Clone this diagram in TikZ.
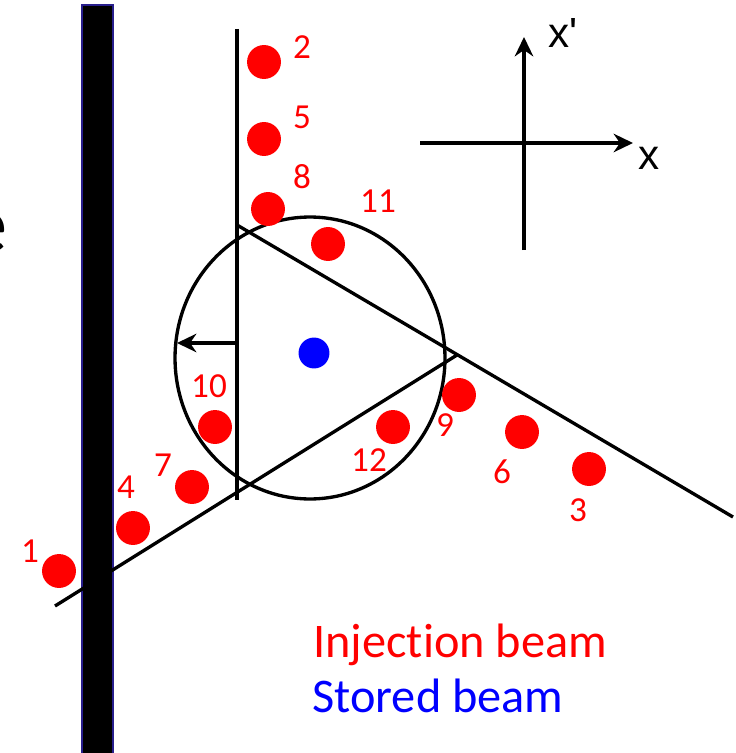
\documentclass[tikz,border=0pt]{standalone}
\usepackage{fontspec}
\setmainfont{Carlito}[Ligatures={NoCommon}]
\newfontfamily\axisfont{Liberation Sans}
\usetikzlibrary{arrows.meta}
\definecolor{injred}{RGB}{255,0,0}
\definecolor{storeblue}{RGB}{0,0,255}
\definecolor{edgenavy}{RGB}{40,30,140}
\tikzset{
  rdot/.style={circle, fill=injred, inner sep=0pt, minimum size=19.3pt},
  bdot/.style={circle, fill=storeblue, inner sep=0pt, minimum size=17.6pt},
  num/.style={text=injred, font=\fontsize{20}{24}\selectfont, inner sep=0pt},
  axlab/.style={font=\axisfont\fontsize{24}{28}\selectfont, inner sep=0pt, anchor=base west},
  wire/.style={line width=1.9pt}
}
\begin{document}
\begin{tikzpicture}[x=0.02cm, y=-0.02cm, >={Stealth[length=11pt,width=10.5pt]}]
  \useasboundingbox (0,0) rectangle (736,753);
  % cut-off letter at the left edge
  \node[anchor=base east, inner sep=0pt, font=\fontsize{47}{56}\selectfont] (cut) at (8,252) {e};
  % septum
  \filldraw[fill=black, draw=edgenavy, line width=0.8pt] (82,5) rectangle (113,770);
  % septum edge and the two other sides
  \coordinate (vtop) at (237,29);
  \coordinate (vbot) at (237,500);
  \coordinate (ua) at (237,225);
  \coordinate (ub) at (733,517);
  \coordinate (la) at (55,606);
  \coordinate (lb) at (457,355);
  \draw[wire] (vtop) -- (vbot);
  \draw[wire] (ua) -- (ub);
  \draw[wire] (la) -- (lb);
  % acceptance
  \coordinate (acc) at (310,358);
  \draw[wire] (acc) ellipse [x radius=2.7cm, y radius=2.82cm];
  % kick
  \coordinate (kick) at (237,343);
  \coordinate (kickend) at (177,343);
  \draw[wire,->] (kick) -- (kickend);
  % axes
  \coordinate (xl) at (420,143);
  \coordinate (xr) at (633,143);
  \coordinate (yb) at (524,250);
  \coordinate (yt) at (524,37);
  \draw[wire,->] (xl) -- (xr);
  \draw[wire,->] (yb) -- (yt);
  \node[axlab] (xlab) at (638,170) {x};
  \node[axlab] (xplab) at (548,48) {x\textquotesingle};
  % injected turns
  \node[rdot] (p1) at (59,571) {};
  \node[num] (n1) at (30,551) {1};
  \node[rdot] (p2) at (264,62) {};
  \node[num] (n2) at (302,47) {2};
  \node[rdot] (p3) at (589,469) {};
  \node[num] (n3) at (578,510) {3};
  \node[rdot] (p4) at (133,528) {};
  \node[num] (n4) at (126,487) {4};
  \node[rdot] (p5) at (264,139) {};
  \node[num] (n5) at (302,117) {5};
  \node[rdot] (p6) at (522,432) {};
  \node[num] (n6) at (502,472) {6};
  \node[rdot] (p7) at (192,487) {};
  \node[num] (n7) at (163,465) {7};
  \node[rdot] (p8) at (268,209) {};
  \node[num] (n8) at (302,177) {8};
  \node[rdot] (p9) at (459,395) {};
  \node[num] (n9) at (445,425) {9};
  \node[rdot] (p10) at (215,427) {};
  \node[num] (n10) at (209,386) {10};
  \node[rdot] (p11) at (328,244) {};
  \node[num] (n11) at (378,201) {11};
  \node[rdot] (p12) at (393,427) {};
  \node[num] (n12) at (369,460) {12};
  % stored beam
  \node[bdot] (st) at (314,353) {};
  % legend
  \node[anchor=base west, inner sep=0pt, text=injred, font=\fontsize{27.5}{32}\selectfont] (leginj) at (313,657) {Injection beam};
  \node[anchor=base west, inner sep=0pt, text=storeblue, font=\fontsize{27.5}{32}\selectfont] (legst) at (312,712) {Stored beam};
\end{tikzpicture}
\end{document}
